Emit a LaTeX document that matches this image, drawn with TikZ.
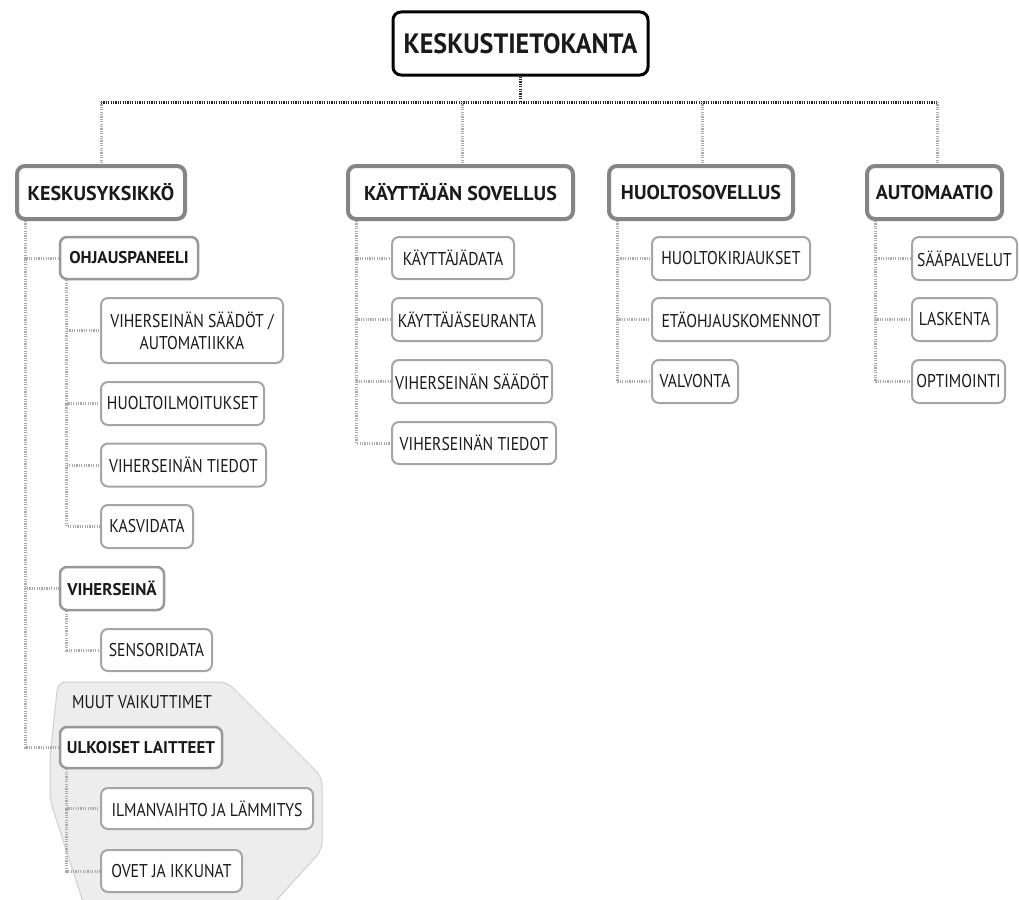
\documentclass[tikz,border=0pt]{standalone}
\usepackage{fontspec}
\setmainfont{PT Sans}
\newfontfamily\regfont{PT Sans}[FakeStretch=0.85]
\newfontfamily\topfont{PT Sans}[FakeStretch=0.93]
\usetikzlibrary{calc}
\definecolor{txt}{HTML}{1A1A1A}
\definecolor{lone}{HTML}{858585}
\definecolor{ltwo}{HTML}{989898}
\definecolor{lthree}{HTML}{A5A5A5}
\definecolor{connc}{HTML}{ABABAB}
\definecolor{bgfill}{HTML}{EDEDED}
\definecolor{bgline}{HTML}{CFCFCF}
\tikzset{
  boxbase/.style={fill=white, inner sep=0pt, align=center, text=txt},
  topbox/.style={boxbase, draw=black, line width=3pt, rounded corners=8pt, font=\topfont\bfseries\fontsize{28}{30}\selectfont},
  onebox/.style={boxbase, draw=lone, line width=4pt, rounded corners=8pt, minimum height=53pt, font=\bfseries\fontsize{20}{22}\selectfont},
  twobox/.style={boxbase, draw=ltwo, line width=2.5pt, rounded corners=7pt, minimum height=42pt, font=\bfseries\fontsize{17}{19}\selectfont},
  threebox/.style={boxbase, draw=lthree, line width=2pt, rounded corners=7pt, minimum height=43pt, font=\regfont\fontsize{18.5}{22}\selectfont},
  conn/.style={draw=connc, line width=3pt, dash pattern=on 1.2pt off 1.2pt},
  busline/.style={draw=black!85, line width=3pt, dash pattern=on 1.2pt off 1.2pt},
}
\begin{document}
\begin{tikzpicture}[x=1pt,y=-1pt]
\useasboundingbox (0,0) rectangle (1019,899);
% background group
\draw[fill=bgfill, draw=bgline, line width=1pt, rounded corners=8pt]
  (58,682) -- (227,682) -- (322,777) -- (322,850) -- (272,905) -- (84,905) -- (50,800) -- (50,757) -- cycle;
\node[text=txt, font=\regfont\fontsize{18.5}{22}\selectfont] (muut) at (142,702) {MUUT VAIKUTTIMET};
% top
\node[topbox, minimum width=255pt, minimum height=63pt] (top) at (520.5,43.5) {KESKUSTIETOKANTA};
\coordinate (bus) at (520.5,102);
% level 1
\node[onebox, minimum width=168pt] (kk) at (101,192.5) {KESKUSYKSIKKÖ};
\node[onebox, minimum width=225pt] (ks) at (460.5,192.5) {KÄYTTÄJÄN SOVELLUS};
\node[onebox, minimum width=184pt] (hs) at (701,192.5) {HUOLTOSOVELLUS};
\node[onebox, minimum width=135pt] (au) at (934.5,192.5) {AUTOMAATIO};
% keskusyksikkö subtree
\node[twobox, minimum width=138pt] (oh) at (129,258) {OHJAUSPANEELI};
\node[threebox, minimum width=182pt, minimum height=65pt] (vsa) at (192,330.5) {VIHERSEINÄN SÄÄDÖT /\\AUTOMATIIKKA};
\node[threebox, minimum width=163pt] (hi) at (182.5,403.5) {HUOLTOILMOITUKSET};
\node[threebox, minimum width=165pt] (vt) at (183.5,465) {VIHERSEINÄN TIEDOT};
\node[threebox, minimum width=92pt] (kd) at (147,526.5) {KASVIDATA};
\node[twobox, minimum width=104pt, minimum height=43pt] (vi) at (112,588.5) {VIHERSEINÄ};
\node[threebox, minimum width=111pt, minimum height=42pt] (sd) at (156.5,650) {SENSORIDATA};
\node[twobox, minimum width=162pt, minimum height=41pt] (ul) at (141,747.5) {ULKOISET LAITTEET};
\node[threebox, minimum width=212pt, minimum height=41pt] (il) at (207,808.5) {ILMANVAIHTO JA LÄMMITYS};
\node[threebox, minimum width=141pt, minimum height=42pt] (ov) at (171.5,871) {OVET JA IKKUNAT};
% käyttäjän sovellus subtree
\node[threebox, minimum width=122pt, minimum height=42pt] (kdd) at (453,258) {KÄYTTÄJÄDATA};
\node[threebox, minimum width=150pt] (kse) at (467,319.5) {KÄYTTÄJÄSEURANTA};
\node[threebox, minimum width=160pt] (vss) at (472,381.5) {VIHERSEINÄN SÄÄDÖT};
\node[threebox, minimum width=164pt, minimum height=42pt] (vtt) at (474,443) {VIHERSEINÄN TIEDOT};
% huoltosovellus subtree
\node[threebox, minimum width=158pt] (hk) at (731,258.5) {HUOLTOKIRJAUKSET};
\node[threebox, minimum width=178pt] (ek) at (741,319.5) {ETÄOHJAUSKOMENNOT};
\node[threebox, minimum width=86pt] (va) at (695,381.5) {VALVONTA};
% automaatio subtree
\node[threebox, minimum width=105pt] (sp) at (964.5,258.5) {SÄÄPALVELUT};
\node[threebox, minimum width=85pt] (la) at (954.5,319.5) {LASKENTA};
\node[threebox, minimum width=93pt] (op) at (958.5,381.5) {OPTIMOINTI};
% bus
\draw[busline] (top.south) -- (bus);
\draw[busline] (kk.north |- bus) -- ([xshift=2.5pt]au.north |- bus);
\draw[conn] (kk.north |- bus) -- (kk.north);
\draw[conn] ([xshift=1.5pt]ks.north |- bus) -- ([xshift=1.5pt]ks.north);
\draw[conn] ([xshift=1pt]hs.north |- bus) -- ([xshift=1pt]hs.north);
\draw[conn] ([xshift=2.5pt]au.north |- bus) -- ([xshift=2.5pt]au.north);
% keskusyksikkö
\draw[conn] ([xshift=10pt]kk.south west) |- (ul.west);
\draw[conn] ([xshift=10pt]kk.south west) |- (oh.west);
\draw[conn] ([xshift=10pt]kk.south west) |- (vi.west);
\draw[conn] ([xshift=8pt]oh.south west) |- (kd.west);
\draw[conn] ([xshift=8pt]oh.south west) |- (vsa.west);
\draw[conn] ([xshift=8pt]oh.south west) |- (hi.west);
\draw[conn] ([xshift=8pt]oh.south west) |- (vt.west);
\draw[conn] ([xshift=8pt]vi.south west) |- (sd.west);
\draw[conn] ([xshift=8pt]ul.south west) |- (ov.west);
\draw[conn] ([xshift=8pt]ul.south west) |- (il.west);
% käyttäjän sovellus
\draw[conn] ([xshift=10pt]ks.south west) |- (vtt.west);
\draw[conn] ([xshift=10pt]ks.south west) |- (kdd.west);
\draw[conn] ([xshift=10pt]ks.south west) |- (kse.west);
\draw[conn] ([xshift=10pt]ks.south west) |- (vss.west);
% huoltosovellus
\draw[conn] ([xshift=10pt]hs.south west) |- (va.west);
\draw[conn] ([xshift=10pt]hs.south west) |- (hk.west);
\draw[conn] ([xshift=10pt]hs.south west) |- (ek.west);
% automaatio
\draw[conn] ([xshift=10pt]au.south west) |- (op.west);
\draw[conn] ([xshift=10pt]au.south west) |- (sp.west);
\draw[conn] ([xshift=10pt]au.south west) |- (la.west);
\end{tikzpicture}
\end{document}
